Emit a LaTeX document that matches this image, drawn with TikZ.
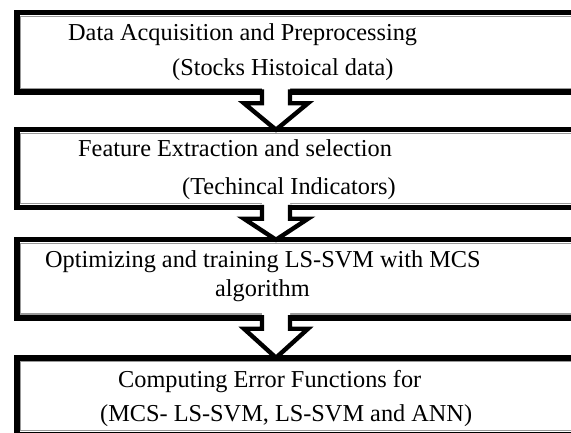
\documentclass[tikz,border=0pt]{standalone}
\usepackage{fontspec}
\setmainfont{Liberation Serif}
\usetikzlibrary{calc}

% block arrow from a box bottom (#1) down to the next box top (#2)
\newcommand\blockarrow[2]{%
  \fill[white] ($(#1)+(-14,-6)$) -- ($(#1)+(-14,11)$) -- ($(#1)+(-32,11)$) -- (#2)
    -- ($(#1)+(32,11)$) -- ($(#1)+(14,11)$) -- ($(#1)+(14,-6)$) -- cycle;
  \draw[arrowline] ($(#1)+(-14,-2.75)$) -- ($(#1)+(-14,11)$) -- ($(#1)+(-32,11)$) -- (#2)
    -- ($(#1)+(32,11)$) -- ($(#1)+(14,11)$) -- ($(#1)+(14,-2.75)$);
}

\begin{document}
\begin{tikzpicture}[x=1pt,y=-1pt,
  boxline/.style={line width=5.5pt, line join=miter},
  innerline/.style={line width=1.1pt, draw=black!40},
  arrowline/.style={line width=4.4pt, line join=miter, miter limit=10},
  txt/.style={font=\fontsize{24.3}{28}\selectfont, inner sep=0pt, anchor=base west}]
\useasboundingbox (0,0) rectangle (571,433);
\clip (0,0) rectangle (571,433);

% step boxes (they run past the right margin)
\coordinate (b1tl) at (16.75,12.75);  \coordinate (b1br) at (580,92.25);
\coordinate (b2tl) at (16.75,129.75); \coordinate (b2br) at (580,207.75);
\coordinate (b3tl) at (16.75,239.75); \coordinate (b3br) at (580,317.75);
\coordinate (b4tl) at (16.75,357.75); \coordinate (b4br) at (580,434.5);

\foreach \b in {b1,b2,b3,b4}{
  \draw[boxline] (\b tl) rectangle (\b br);
  \draw[innerline] ($(\b tl)+(3.8,3.8)$) rectangle ($(\b br)+(-3.8,-3.8)$);
}

% arrow ends
\coordinate (a1s) at (276,92.25);  \coordinate (a1e) at (276,129.75);
\coordinate (a2s) at (276,207.75); \coordinate (a2e) at (276,239.75);
\coordinate (a3s) at (276,317.75); \coordinate (a3e) at (276,357.75);

\blockarrow{a1s}{a1e}
\blockarrow{a2s}{a2e}
\blockarrow{a3s}{a3e}

% labels
\node[txt] (t1a) at (68,41) {Data Acquisition and Preprocessing};
\node[txt] (t1b) at (172,76) {(Stocks Histoical data)};
\node[txt] (t2a) at (78,157) {Feature Extraction and selection};
\node[txt] (t2b) at (182,195) {(Techincal Indicators)};
\node[txt] (t3a) at (45,268) {Optimizing and training LS-SVM with MCS};
\node[txt] (t3b) at (215,297) {algorithm};
\node[txt] (t4a) at (118,387) {Computing Error Functions for};
\node[txt] (t4b) at (100,421) {(MCS- LS-SVM, LS-SVM and ANN)};
\end{tikzpicture}
\end{document}
